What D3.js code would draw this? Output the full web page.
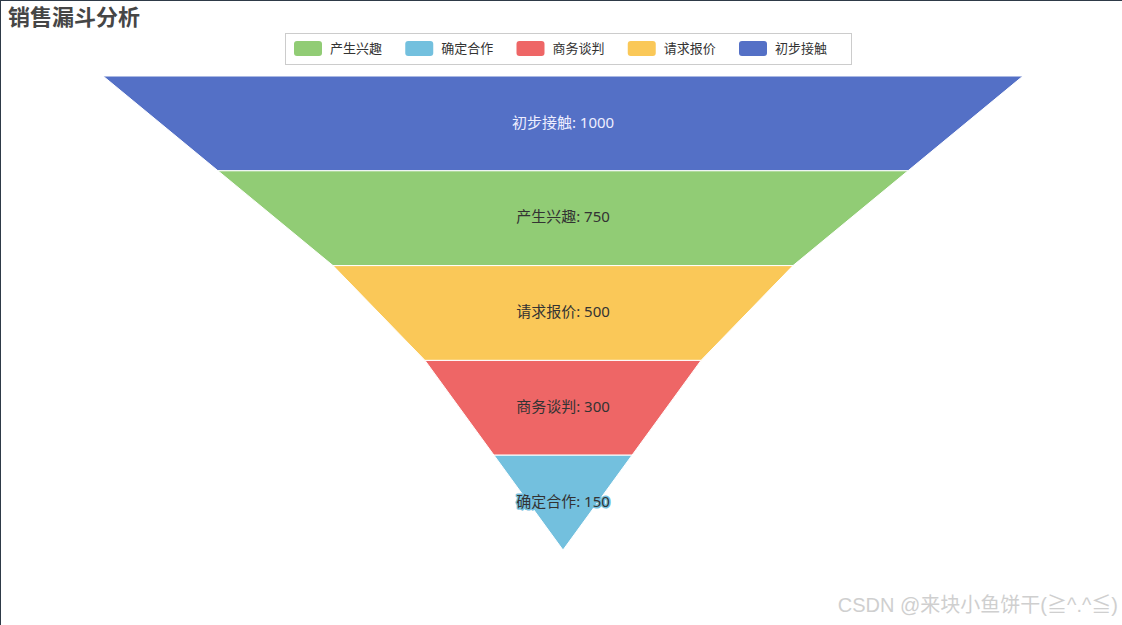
<!DOCTYPE html>
<html>
<head>
<meta charset="utf-8">
<script src="https://cdn.jsdelivr.net/npm/d3@7"></script>
<style>
  body { margin: 0; background: #fff; }
  svg { display: block; font-family: "Noto Sans", "Noto Sans CJK SC", sans-serif; }
</style>
</head>
<body>
<svg id="chart"></svg>
<script>
const [w, h] = [1122, 625];

// funnel stages, top to bottom
const stages = ['初步接触', '产生兴趣', '请求报价', '商务谈判', '确定合作'];
const values = [1000, 750, 500, 300, 150];
const colors = ['#5470c6', '#91cc75', '#fac858', '#ee6666', '#73c0de'];
const legendOrder = ['产生兴趣', '确定合作', '商务谈判', '请求报价', '初步接触'];

const svg = d3.select('#chart').attr('width', w).attr('height', h);

// frame lines at top/left
svg.append('rect').attr('x', 0).attr('y', 0).attr('width', w).attr('height', h).attr('fill', '#fff');
svg.append('line').attr('x1', 0).attr('x2', w).attr('y1', 0.5).attr('y2', 0.5).attr('stroke', '#2e3a48');
svg.append('line').attr('x1', 0.5).attr('x2', 0.5).attr('y1', 0).attr('y2', h).attr('stroke', '#2e3a48');

svg.append('text')
    .attr('x', 8).attr('y', 25)
    .attr('font-size', 22).attr('font-weight', 'bold')
    .attr('fill', '#464646')
    .text('销售漏斗分析');

const cx = 563;
const widthScale = d3.scaleLinear().domain([0, d3.max(values)]).range([0, 920]);
const yScale = d3.scaleBand().domain(stages).range([76, 550]);
const colorOf = d3.scaleOrdinal().domain(stages).range(colors);

const data = stages.map((s, i) => ({
    name: s,
    value: values[i],
    next: i < values.length - 1 ? values[i + 1] : 0
}));

const g = svg.append('g');
g.selectAll('path')
    .data(data)
    .enter()
    .append('path')
        .attr('d', d => {
            const y0 = yScale(d.name), y1 = y0 + yScale.bandwidth();
            const t = widthScale(d.value) / 2, b = widthScale(d.next) / 2;
            return `M${cx - t},${y0}L${cx + t},${y0}L${cx + b},${y1}L${cx - b},${y1}Z`;
        })
        .attr('fill', d => colorOf(d.name))
        .attr('stroke', '#fff')
        .attr('stroke-width', 1);

g.selectAll('text')
    .data(data)
    .enter()
    .append('text')
        .attr('x', cx)
        .attr('y', d => yScale(d.name) + yScale.bandwidth() / 2 - 1)
        .attr('dy', '0.35em')
        .attr('text-anchor', 'middle')
        .attr('font-size', 15)
        .attr('fill', (d, i) => i === 0 ? '#eef' : '#333')
        .attr('stroke', (d, i) => i === data.length - 1 ? colorOf(d.name) : 'none')
        .attr('stroke-width', 3)
        .attr('paint-order', 'stroke')
        .attr('stroke-linejoin', 'round')
        .text(d => `${d.name}: ${d.value}`);

// legend
const legend = svg.append('g');
legend.append('rect')
    .attr('x', 285.5).attr('y', 33.5).attr('width', 566).attr('height', 31)
    .attr('fill', 'none').attr('stroke', '#ccc');
const itemX = d3.scalePoint().domain(legendOrder).range([294, 739]);
const items = legend.selectAll('g.item')
    .data(legendOrder)
    .enter()
    .append('g')
        .attr('transform', d => `translate(${itemX(d)}, 41)`);
items.append('rect')
    .attr('width', 28).attr('height', 15).attr('rx', 3)
    .attr('fill', d => colorOf(d));
items.append('text')
    .attr('x', 36).attr('y', 7.5).attr('dy', '0.35em')
    .attr('font-size', 13).attr('fill', '#333')
    .text(d => d);

// watermark
svg.append('text')
    .attr('x', 1118).attr('y', 612)
    .attr('text-anchor', 'end')
    .attr('font-size', 20)
    .attr('fill', '#cfcfcf')
    .attr('font-family', '"Liberation Sans", "Noto Sans CJK SC", sans-serif')
    .text('CSDN @来块小鱼饼干(≧^.^≦)');
</script>
</body>
</html>
